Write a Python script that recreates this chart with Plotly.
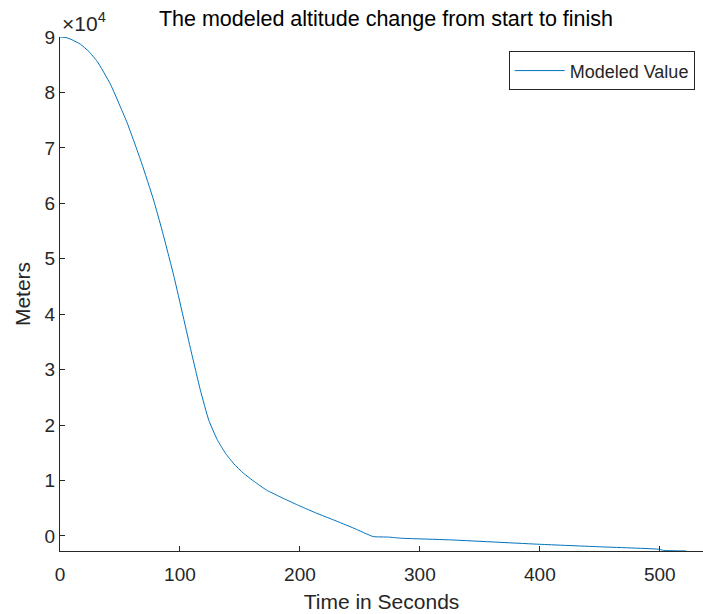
import plotly.graph_objects as go

# Time in seconds and modeled altitude in meters
time_s = [0, 5, 10, 17, 24, 31, 42, 56, 68, 78, 85, 95, 109, 117, 124, 131, 138,
          145, 153, 162, 172, 186, 200, 214, 228, 245, 261, 274, 284, 325, 400,
          450, 500, 503, 522]
altitude_m = [90000, 89900, 89500, 88700, 87400, 85600, 81500, 74500, 67300, 60600,
              55200, 46800, 33600, 26300, 20900, 17400, 14900, 13000, 11300, 9800,
              8300, 6800, 5400, 4100, 2900, 1400, -100, -200, -400, -700, -1500,
              -1950, -2400, -2600, -2700]

x_ticks = [0, 100, 200, 300, 400, 500]
y_ticks = [0, 10000, 20000, 30000, 40000, 50000, 60000, 70000, 80000, 90000]
y_ticklabels = ["0", "1", "2", "3", "4", "5", "6", "7", "8", "9"]

FONT = "Liberation Sans, Arial, Helvetica, sans-serif"
AX = "#262626"

fig = go.Figure()
fig.add_trace(go.Scatter(
    x=time_s, y=altitude_m, mode="lines", name="Modeled Value",
    line=dict(color="#0072BD", width=1, shape="spline", smoothing=0.4),
))

fig.update_layout(
    width=703, height=614,
    margin=dict(l=60, r=0, t=37, b=63),
    paper_bgcolor="white", plot_bgcolor="white",
    font=dict(family=FONT, color=AX, size=19),
    title=dict(text="The modeled altitude change from start to finish",
               x=0.549, xanchor="center", y=0.97, yanchor="middle",
               font=dict(family=FONT, size=21.5, color="black")),
    showlegend=True,
    legend=dict(x=0.987, xanchor="right", y=0.972, yanchor="top",
                bordercolor=AX, borderwidth=1, bgcolor="white",
                font=dict(family=FONT, size=18, color=AX),
                itemwidth=50, tracegroupgap=0),
    xaxis=dict(
        range=[0, 536], tickvals=x_ticks, ticks="inside", ticklen=5,
        tickcolor=AX, showline=True, linecolor=AX, linewidth=1,
        showgrid=False, zeroline=False, ticklabelstandoff=6,
        title=dict(text="Time in Seconds", font=dict(size=21, color=AX), standoff=10),
        tickfont=dict(size=19, color=AX),
    ),
    yaxis=dict(
        range=[-2708, 90000], tickvals=y_ticks, ticktext=y_ticklabels,
        ticks="inside", ticklen=5, tickcolor=AX,
        showline=True, linecolor=AX, linewidth=1,
        showgrid=False, zeroline=False,
        title=dict(text="Meters", font=dict(size=21, color=AX), standoff=8),
        tickfont=dict(size=19, color=AX),
    ),
)

fig.add_annotation(
    text="×10<sup>4</sup>", xref="paper", yref="paper", x=0.0, y=1.0,
    xanchor="left", yanchor="bottom", showarrow=False,
    font=dict(family=FONT, size=21, color=AX), yshift=0, xshift=0,
)

fig.write_html("out.html")
